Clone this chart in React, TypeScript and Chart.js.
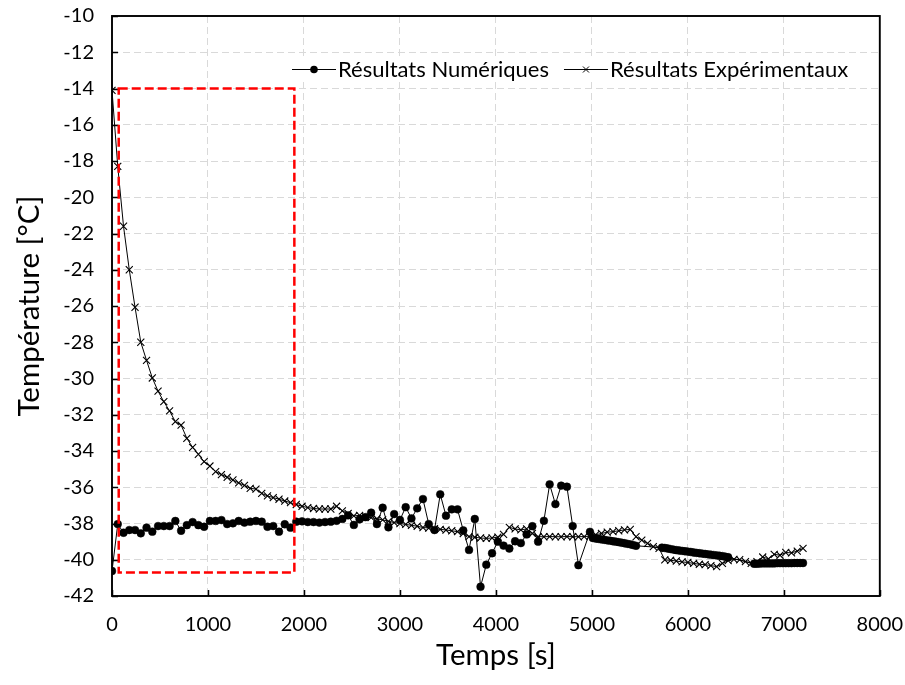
import React, { useEffect, useRef } from 'react';
import { Chart, registerables } from 'chart.js';

Chart.register(...registerables);

const FONT = "Lato, 'Open Sans', sans-serif";

// ---------- data ----------
const seriesLabels = ['Résultats Numériques', 'Résultats Expérimentaux'];
const xTitle = 'Temps [s]';
const yTitle = 'Température [°C]';

const xTickValues = [0, 1000, 2000, 3000, 4000, 5000, 6000, 7000, 8000];
const yTickValues = [-42, -40, -38, -36, -34, -32, -30, -28, -26, -24, -22, -20, -18, -16, -14, -12, -10];

const numTime = [
  0, 60, 120, 180, 240, 300, 360, 420, 480, 540, 600, 660, 720, 780, 840, 900, 960, 1020, 1080, 1140,
  1200, 1260, 1320, 1380, 1440, 1500, 1560, 1620, 1680, 1740, 1800, 1860, 1920, 1980, 2040, 2100, 2160, 2220, 2280, 2340,
  2400, 2460, 2520, 2580, 2640, 2700, 2760, 2820, 2880, 2940, 3000, 3060, 3120, 3180, 3240, 3300, 3360, 3420, 3480, 3540,
  3600, 3660, 3720, 3780, 3840, 3900, 3960, 4020, 4080, 4140, 4200, 4260, 4320, 4380, 4440, 4500, 4560, 4620, 4680, 4740,
  4800, 4860, 4980,
  5010, 5040, 5070, 5100, 5130, 5160, 5190, 5220, 5250, 5280, 5310, 5340, 5370, 5400, 5430, 5460,
  5730, 5760, 5790, 5820, 5850, 5880, 5910, 5940, 5970, 6000, 6030, 6060, 6090, 6120, 6150, 6180, 6210, 6240, 6270, 6300, 6330, 6360, 6390, 6420,
  6690, 6720, 6750, 6780, 6810, 6840, 6870, 6900, 6930, 6960, 6990, 7020, 7050, 7080, 7110, 7140, 7170, 7200,
];
const numTemp = [
  -40.62, -38.03, -38.51, -38.36, -38.36, -38.54, -38.23, -38.45, -38.14, -38.14, -38.14, -37.86, -38.40, -38.09, -37.92, -38.09, -38.18, -37.86, -37.86, -37.81,
  -38.03, -37.99, -37.86, -37.95, -37.90, -37.86, -37.90, -38.18, -38.14, -38.45, -38.04, -38.23, -37.90, -37.88, -37.92, -37.92, -37.95, -37.92, -37.90, -37.85,
  -37.75, -37.55, -38.08, -37.77, -37.65, -37.40, -38.03, -37.13, -38.21, -37.48, -37.80, -37.10, -37.72, -37.16, -36.65, -38.03, -38.36, -36.39, -37.57, -37.22,
  -37.22, -38.38, -39.46, -37.75, -41.49, -40.27, -39.64, -39.00, -39.22, -39.38, -38.98, -39.08, -38.60, -38.15, -39.00, -37.85, -35.84, -36.93, -35.91, -35.97,
  -38.14, -40.30, -38.46,
  -38.80, -38.83, -38.85, -38.88, -38.90, -38.93, -38.95, -38.98, -39.00, -39.03, -39.06, -39.09, -39.12, -39.15, -39.19, -39.23,
  -39.33, -39.35, -39.38, -39.41, -39.44, -39.47, -39.49, -39.51, -39.53, -39.55, -39.57, -39.60, -39.62, -39.64, -39.66, -39.68, -39.70, -39.72, -39.74, -39.76, -39.78, -39.80, -39.83, -39.86,
  -40.22, -40.22, -40.21, -40.20, -40.20, -40.20, -40.20, -40.20, -40.19, -40.19, -40.19, -40.19, -40.19, -40.19, -40.18, -40.18, -40.18, -40.18,
];

const expTime = [
  0, 60, 120, 180, 240, 300, 360, 420, 480, 540, 600, 660, 720, 780, 840, 900, 960, 1020, 1080, 1140,
  1200, 1260, 1320, 1380, 1440, 1500, 1560, 1620, 1680, 1740, 1800, 1860, 1920, 1980, 2040, 2100, 2160, 2220, 2280, 2340,
  2400, 2460, 2520, 2580, 2640, 2700, 2760, 2820, 2880, 2940, 3000, 3060, 3120, 3180, 3240, 3300, 3360, 3420, 3480, 3540,
  3600, 3660, 3720, 3780, 3840, 3900, 3960, 4020, 4080, 4140, 4200, 4260, 4320, 4380, 4440, 4500, 4560, 4620, 4680, 4740,
  4800, 4860, 4920, 4980, 5040, 5100, 5160, 5220, 5280, 5340, 5400, 5460, 5520, 5580, 5640, 5700, 5760, 5820, 5880, 5940,
  6000, 6060, 6120, 6180, 6240, 6300, 6360, 6420, 6480, 6540, 6600, 6660, 6720, 6780, 6840, 6900, 6960, 7020, 7080, 7140,
  7200,
];
const expTemp = [
  -14.10, -18.30, -21.60, -24.00, -26.07, -28.00, -29.00, -29.97, -30.70, -31.28, -31.79, -32.38, -32.57, -33.30, -33.80, -34.18, -34.59, -34.83, -35.14, -35.30,
  -35.45, -35.60, -35.76, -35.90, -36.06, -36.10, -36.34, -36.48, -36.57, -36.66, -36.76, -36.85, -36.95, -37.05, -37.12, -37.17, -37.20, -37.20, -37.20, -37.05,
  -37.30, -37.45, -37.58, -37.55, -37.62, -37.68, -37.74, -37.80, -37.88, -37.95, -38.00, -38.05, -38.10, -38.15, -38.22, -38.25, -38.28, -38.32, -38.36, -38.40,
  -38.45, -38.55, -38.72, -38.76, -38.80, -38.82, -38.80, -38.75, -38.60, -38.21, -38.30, -38.35, -38.30, -38.55, -38.73, -38.73, -38.72, -38.73, -38.73, -38.72,
  -38.73, -38.73, -38.72, -38.70, -38.62, -38.55, -38.48, -38.45, -38.40, -38.35, -38.33, -38.73, -38.92, -39.10, -39.28, -39.37, -40.01, -40.03, -40.07, -40.12,
  -40.15, -40.20, -40.25, -40.27, -40.32, -40.38, -40.20, -40.05, -39.98, -40.00, -40.10, -40.20, -40.10, -39.85, -39.95, -39.70, -39.75, -39.60, -39.62, -39.52,
  -39.37,
];

// red dashed highlight box (data coordinates)
const boxTime = [70, 1900];
const boxTemp = [-40.7, -14.0];

// ---------- plugins ----------
const framePlugin = {
  id: 'frame',
  beforeDatasetsDraw(chart: any) {
    const { ctx, chartArea, scales } = chart;
    const { left, right, top, bottom } = chartArea;
    ctx.save();
    ctx.strokeStyle = '#000';
    ctx.lineWidth = 1.5;
    ctx.beginPath();
    scales.y.ticks.forEach((t: any) => {
      const py = Math.round(scales.y.getPixelForValue(t.value)) + 0.5;
      ctx.moveTo(left, py);
      ctx.lineTo(left + 6, py);
    });
    scales.x.ticks.forEach((t: any) => {
      const px = Math.round(scales.x.getPixelForValue(t.value)) + 0.5;
      ctx.moveTo(px, bottom);
      ctx.lineTo(px, bottom - 6);
    });
    ctx.stroke();
    ctx.lineWidth = 1.9;
    ctx.strokeRect(left, top, right - left, bottom - top);
    ctx.restore();
  },
};

const boxPlugin = {
  id: 'redBox',
  afterDatasetsDraw(chart: any) {
    const { ctx, scales } = chart;
    const x1 = scales.x.getPixelForValue(boxTime[0]);
    const x2 = scales.x.getPixelForValue(boxTime[1]);
    const y1 = scales.y.getPixelForValue(boxTemp[1]);
    const y2 = scales.y.getPixelForValue(boxTemp[0]);
    ctx.save();
    ctx.strokeStyle = '#ff0000';
    ctx.lineWidth = 2.5;
    ctx.setLineDash([9, 4]);
    ctx.strokeRect(x1, y1, x2 - x1, y2 - y1);
    ctx.restore();
  },
};

const legendPlugin = {
  id: 'customLegend',
  afterDraw(chart: any) {
    const { ctx } = chart;
    const fontSize = 22;
    const startX = 292;
    const cy = 69;
    const symW = 44;
    const textGap = 2;
    const itemGap = 15;
    ctx.save();
    ctx.font = `${fontSize}px ${FONT}`;
    const widths = chart.data.datasets.map((d: any) => ctx.measureText(d.label).width);
    let total = 0;
    widths.forEach((w: number, i: number) => {
      total += symW + textGap + w + (i < widths.length - 1 ? itemGap : 0);
    });
    ctx.fillStyle = '#fff';
    ctx.fillRect(startX - 4, cy - 13, total + 8, 26);
    let x = startX;
    chart.data.datasets.forEach((d: any, i: number) => {
      ctx.strokeStyle = '#000';
      ctx.lineWidth = 1;
      ctx.setLineDash([]);
      ctx.beginPath();
      ctx.moveTo(x, cy + 0.5);
      ctx.lineTo(x + symW, cy + 0.5);
      ctx.stroke();
      const mx = x + symW / 2;
      if (d.pointStyle === 'circle') {
        ctx.fillStyle = '#000';
        ctx.beginPath();
        ctx.arc(mx, cy + 0.5, 3.8, 0, Math.PI * 2);
        ctx.fill();
      } else {
        ctx.beginPath();
        ctx.moveTo(mx - 3, cy - 2.5);
        ctx.lineTo(mx + 3, cy + 3.5);
        ctx.moveTo(mx + 3, cy - 2.5);
        ctx.lineTo(mx - 3, cy + 3.5);
        ctx.stroke();
      }
      ctx.fillStyle = '#000';
      ctx.textBaseline = 'middle';
      ctx.textAlign = 'left';
      ctx.fillText(d.label, x + symW + textGap, cy + 1);
      x += symW + textGap + widths[i] + itemGap;
    });
    ctx.restore();
  },
};

export default function App() {
  const canvasRef = useRef<HTMLCanvasElement | null>(null);

  useEffect(() => {
    if (!canvasRef.current) return;
    const numPoints = numTime.map((t, i) => ({ x: t, y: numTemp[i] }));
    const expPoints = expTime.map((t, i) => ({ x: t, y: expTemp[i] }));

    const chart = new Chart(canvasRef.current, {
      type: 'scatter',
      data: {
        datasets: [
          {
            label: seriesLabels[0],
            data: numPoints,
            showLine: true,
            borderColor: '#000',
            borderWidth: 1,
            pointStyle: 'circle',
            pointRadius: 3.9,
            pointBackgroundColor: '#000',
            pointBorderColor: '#000',
            pointBorderWidth: 0.5,
            tension: 0,
            order: 1,
          },
          {
            label: seriesLabels[1],
            data: expPoints,
            showLine: true,
            borderColor: '#000',
            borderWidth: 1,
            pointStyle: 'crossRot',
            pointRadius: 5,
            pointBackgroundColor: '#000',
            pointBorderColor: '#000',
            pointBorderWidth: 1.1,
            tension: 0,
            order: 0,
          },
        ],
      },
      options: {
        responsive: false,
        animation: false,
        devicePixelRatio: 1,
        layout: { padding: { top: 16, right: 25, bottom: 0, left: 0 } },
        plugins: {
          legend: { display: false },
          tooltip: { enabled: false },
        },
        scales: {
          x: {
            type: 'linear',
            min: 0,
            max: 8000,
            afterBuildTicks: (s: any) => {
              s.ticks = xTickValues.map((v) => ({ value: v }));
            },
            afterFit: (s: any) => {
              s.height = 89;
            },
            ticks: {
              padding: 2,
              color: '#000',
              font: { family: FONT, size: 20 },
              callback: (v: any) => String(v),
              maxRotation: 0,
            },
            grid: {
              color: '#d9d9d9',
              lineWidth: 1,
              drawTicks: true,
              tickLength: 15,
              tickColor: 'rgba(0,0,0,0)',
            },
            border: { display: false, dash: [7, 4] },
            title: {
              display: true,
              text: xTitle,
              color: '#000',
              font: { family: FONT, size: 29.5 },
              padding: { top: 0, bottom: 12 },
            },
          },
          y: {
            type: 'linear',
            min: -42,
            max: -10,
            afterBuildTicks: (s: any) => {
              s.ticks = yTickValues.map((v) => ({ value: v }));
            },
            afterFit: (s: any) => {
              s.width = 112;
            },
            ticks: {
              padding: 2,
              color: '#000',
              font: { family: FONT, size: 20 },
              callback: (v: any) => String(v),
            },
            grid: {
              color: '#d9d9d9',
              lineWidth: 1,
              drawTicks: true,
              tickLength: 16,
              tickColor: 'rgba(0,0,0,0)',
            },
            border: { display: false, dash: [7, 4] },
            title: {
              display: true,
              text: yTitle,
              color: '#000',
              font: { family: FONT, size: 29.5 },
              padding: { top: 12, bottom: 0 },
            },
          },
        },
      } as any,
      plugins: [framePlugin, boxPlugin, legendPlugin],
    });
    return () => chart.destroy();
  }, []);

  return (
    <div style={{ position: 'fixed', left: 0, top: 0, width: 905, height: 685, background: '#fff' }}>
      <canvas ref={canvasRef} width={905} height={685} />
    </div>
  );
}
